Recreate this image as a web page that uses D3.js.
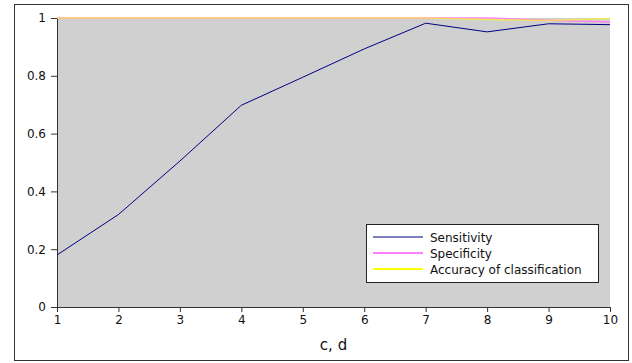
<!DOCTYPE html>
<html>
<head>
<meta charset="utf-8">
<script src="https://cdn.jsdelivr.net/npm/d3@7"></script>
<style>
  body { margin: 0; background: #fff; }
  svg { font-family: "DejaVu Sans", sans-serif; }
</style>
</head>
<body>
<div class="canvas"></div>
<script>
// data
const cd = [1, 2, 3, 4, 5, 6, 7, 8, 9, 10];
const sensitivity = [0.18, 0.32, 0.505, 0.698, 0.795, 0.893, 0.982, 0.952, 0.98, 0.977];
const specificity = [1, 1, 1, 1, 1, 1, 1, 1, 0.992, 0.986];
const accuracy = [1, 1, 1, 1, 1, 1, 1, 0.995, 0.991, 0.998];
const yTicks = [0, 0.2, 0.4, 0.6, 0.8, 1];
const seriesNames = ['Sensitivity', 'Specificity', 'Accuracy of classification'];
const seriesColors = ['#000080', '#ff80ff', '#ffff00'];

const svg = d3.select('.canvas')
  .append('svg')
  .attr('width', 632)
  .attr('height', 363);

// outer frame
svg.append('rect')
  .attr('x', 14.5).attr('y', 4.5)
  .attr('width', 614).attr('height', 356)
  .attr('fill', 'white')
  .attr('stroke', '#333')
  .attr('stroke-width', 1);

const margin = { top: 18, left: 57 };
const graphWidth = 553;
const graphHeight = 289;

const graph = svg.append('g')
  .attr('transform', `translate(${margin.left}, ${margin.top})`);

const x = d3.scaleLinear().domain([1, 10]).range([0, graphWidth]);
const y = d3.scaleLinear().domain([0, 1]).range([graphHeight, 0]);

// grey plot area
graph.append('rect')
  .attr('width', graphWidth)
  .attr('height', graphHeight)
  .attr('fill', '#d0d0d0');

// axes
const xAxis = d3.axisBottom(x).tickValues(cd).tickFormat(d3.format('d')).tickSize(5).tickSizeOuter(0);
const yAxis = d3.axisLeft(y).tickValues(yTicks).tickFormat(d => d === 0 || d === 1 ? d : d3.format('.1f')(d)).tickSize(6).tickSizeOuter(0);

const xAxisGroup = graph.append('g')
  .attr('transform', `translate(0, ${graphHeight})`)
  .call(xAxis);
const yAxisGroup = graph.append('g').call(yAxis);

[xAxisGroup, yAxisGroup].forEach(g => {
  g.selectAll('path, line').attr('stroke', '#333');
  g.selectAll('text').attr('fill', '#111').attr('font-size', 12).attr('font-family', '"DejaVu Sans", sans-serif');
});
xAxisGroup.selectAll('text').attr('dy', '0.95em').attr('y', 6);
yAxisGroup.selectAll('text').attr('x', -11);

// lines
const line = d3.line()
  .x((d, i) => x(cd[i]))
  .y(d => y(d));

const allSeries = [sensitivity, specificity, accuracy];
// pink and yellow overlap along the top, blue drawn last
[1, 2, 0].forEach(k => {
  graph.append('path')
    .datum(allSeries[k])
    .attr('fill', 'none')
    .attr('stroke', seriesColors[k])
    .attr('stroke-width', k === 0 ? 1 : 1.5)
    .attr('opacity', k === 2 ? 0.6 : 1)
    .attr('d', line);
});

// x axis title
svg.append('text')
  .attr('x', margin.left + graphWidth / 2)
  .attr('y', 350)
  .attr('text-anchor', 'middle')
  .attr('font-size', 15)
  .attr('fill', '#111')
  .text('c, d');

// legend
const legend = svg.append('g').attr('transform', 'translate(366, 224)');
legend.append('rect')
  .attr('x', 0.5).attr('y', 0.5)
  .attr('width', 232).attr('height', 58)
  .attr('fill', 'white')
  .attr('stroke', '#222');

seriesNames.forEach((name, i) => {
  const cy = 13 + i * 16;
  legend.append('line')
    .attr('x1', 7).attr('x2', 57)
    .attr('y1', cy).attr('y2', cy)
    .attr('stroke', seriesColors[i])
    .attr('stroke-width', i === 0 ? 1 : 2);
  legend.append('text')
    .attr('x', 64).attr('y', cy + 4.5)
    .attr('font-size', 12)
    .attr('fill', '#111')
    .text(name);
});
</script>
</body>
</html>
